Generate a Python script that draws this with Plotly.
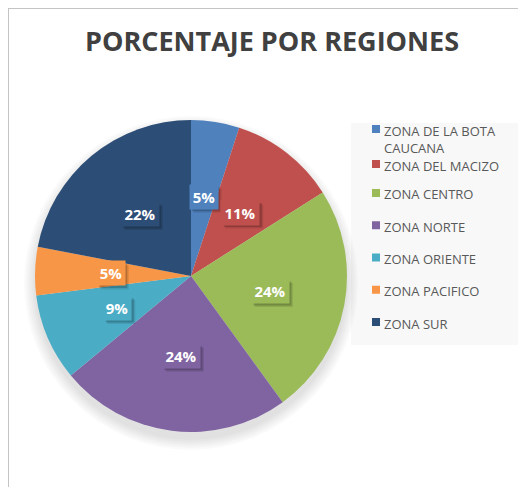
import math
import plotly.graph_objects as go

# ---- data ----
regions = ["ZONA DE LA BOTA CAUCANA", "ZONA DEL MACIZO", "ZONA CENTRO", "ZONA NORTE",
           "ZONA ORIENTE", "ZONA PACIFICO", "ZONA SUR"]
legend_text = ["ZONA DE LA BOTA<br>CAUCANA", "ZONA DEL MACIZO", "ZONA CENTRO", "ZONA NORTE",
               "ZONA ORIENTE", "ZONA PACIFICO", "ZONA SUR"]
percentages = [5, 11, 24, 24, 9, 5, 22]
colors = ["#4F81BD", "#C0504D", "#9BBB59", "#8064A2", "#4BACC6", "#F79646", "#2C4D75"]
title_text = "PORCENTAJE POR REGIONES"

# page has an 8px body margin; coordinates below are page pixels
OFF = 8
W, H = 526 - OFF, 487 - OFF
CX, CY, R = 191, 276, 156


def px(x):
    return (x - OFF) / W


def py(y):
    return 1 - (y - OFF) / H


fig = go.Figure()
fig.add_trace(go.Pie(
    labels=regions,
    values=percentages,
    sort=False,
    direction="clockwise",
    rotation=0,
    marker=dict(colors=colors, line=dict(width=0)),
    textinfo="none",
    hoverinfo="label+percent",
    showlegend=False,
    domain=dict(x=[px(CX - R), px(CX + R)], y=[py(CY + R), py(CY - R)]),
))

shapes = []
# chart border (left and top)
shapes.append(dict(type="line", xref="paper", yref="paper", x0=px(8), x1=px(8), y0=py(8), y1=0,
                   line=dict(color="#C4C4C4", width=2)))
shapes.append(dict(type="line", xref="paper", yref="paper", x0=px(8), x1=1, y0=py(8), y1=py(8),
                   line=dict(color="#C4C4C4", width=2)))
# legend background
shapes.append(dict(type="rect", xref="paper", yref="paper", x0=px(351), x1=1, y0=py(345), y1=py(123),
                   fillcolor="#F8F8F8", line=dict(width=0), layer="below"))
# soft pie shadow
for k in range(6):
    rr = R + 1 + k * 2
    off = 7
    shapes.append(dict(type="circle", xref="paper", yref="paper",
                       x0=px(CX - rr), x1=px(CX + rr),
                       y0=py(CY + off + rr), y1=py(CY + off - rr),
                       fillcolor="rgba(0,0,0,0.018)", line=dict(width=0), layer="below"))

annotations = []
# data labels positioned from the cumulative shares
PAD = 2
total = sum(percentages)
cum = 0
for val, col in zip(percentages, colors):
    mid = (cum + val / 2) / total * 2 * math.pi
    cum += val
    lr = 0.515 * R
    lx = CX + lr * math.sin(mid)
    ly = CY - lr * math.cos(mid)
    txt = f"{round(val / total * 100)}%"
    bw = 10 * len(txt) + 8
    bh = 24
    # soft drop shadow behind the label box
    for d, a in ((4, 0.10), (2.5, 0.18)):
        shapes.append(dict(type="rect", xref="paper", yref="paper",
                           x0=px(lx - bw / 2 + d), x1=px(lx + bw / 2 + d),
                           y0=py(ly + bh / 2 + d), y1=py(ly - bh / 2 + d),
                           fillcolor=f"rgba(0,0,0,{a})", line=dict(width=0)))
    annotations.append(dict(x=px(lx), y=py(ly), xref="paper", yref="paper",
                            xanchor="center", yanchor="middle",
                            text=f"<b>{txt}</b>", showarrow=False,
                            width=bw - 2 * PAD, height=bh - 2 * PAD,
                            font=dict(family="Open Sans", size=15, color="white"),
                            bgcolor=col, borderpad=PAD))

# legend entries
LEG_X = 372
for i, (lab, col) in enumerate(zip(legend_text, colors)):
    if i == 0:
        y = 129
    elif i == 1:
        y = 164
    else:
        y = 193 + (i - 2) * 32.25
    shapes.append(dict(type="rect", xref="paper", yref="paper",
                       x0=px(LEG_X), x1=px(LEG_X + 8), y0=py(y + 4), y1=py(y - 4),
                       fillcolor=col, line=dict(width=0)))
    annotations.append(dict(x=px(LEG_X + 11), y=py(y - 8.5), xref="paper", yref="paper",
                            text=lab, showarrow=False, xanchor="left", yanchor="top", align="left",
                            borderpad=0,
                            font=dict(family="Open Sans", size=13, color="#595959")))

fig.update_layout(
    width=W, height=H,
    margin=dict(l=0, r=0, t=0, b=0),
    paper_bgcolor="white",
    title=dict(text=f"<b>{title_text}</b>", x=px(272), y=py(42), xanchor="center", yanchor="middle",
               font=dict(family="Open Sans", size=27, color="#404040")),
    shapes=shapes,
    annotations=annotations,
    showlegend=False,
)

fig.write_html("out.html")
